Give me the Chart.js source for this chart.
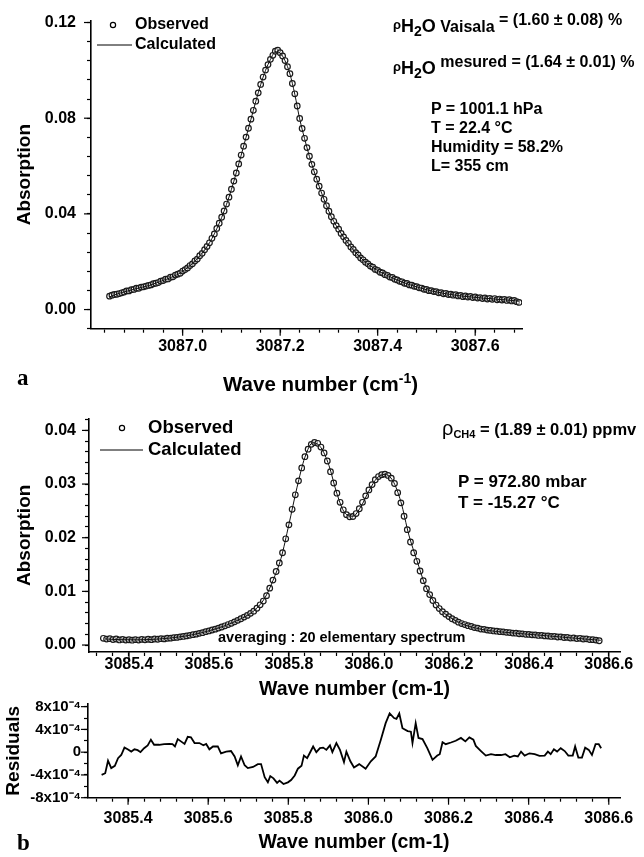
<!DOCTYPE html>
<html>
<head>
<meta charset="utf-8">
<script src="https://cdn.jsdelivr.net/npm/chart.js@4.4.1/dist/chart.umd.min.js"></script>
<style>
  body { margin:0; background:#fff; width:644px; height:857px; position:relative; overflow:hidden;
         font-family:"Liberation Sans", Arial, sans-serif; font-weight:bold; color:#000; }
  canvas { position:absolute; left:0; }
  .txt { position:absolute; white-space:nowrap; }
  .tag { position:absolute; font-family:"Liberation Serif", serif; font-weight:bold; font-size:23px; line-height:24px; }
</style>
</head>
<body>
<canvas id="chartA" width="644" height="400" style="top:0"></canvas>
<canvas id="chartB" width="644" height="310" style="top:400px"></canvas>
<canvas id="chartC" width="644" height="167" style="top:690px"></canvas>

<div class="txt" style="left:393px; top:7px; font-size:16px; line-height:26px">
  <span style="font-size:13px; vertical-align:3px">ρ</span><span style="font-size:18px">H</span><span style="font-size:14px; vertical-align:-4px">2</span><span style="font-size:18px">O</span> Vaisala <span style="vertical-align:7px">= (1.60 ± 0.08) %</span>
</div>
<div class="txt" style="left:393px; top:49px; font-size:16px; line-height:26px">
  <span style="font-size:13px; vertical-align:3px">ρ</span><span style="font-size:18px">H</span><span style="font-size:14px; vertical-align:-4px">2</span><span style="font-size:18px">O</span> <span style="vertical-align:7px">mesured = (1.64 ± 0.01) %</span>
</div>
<div class="txt" style="left:431px; top:99px; font-size:16px; line-height:19px">
  P = 1001.1 hPa<br>T = 22.4 °C<br>Humidity = 58.2%<br>L= 355 cm
</div>
<div class="txt" style="left:223px; top:366px; font-size:20.5px; line-height:24px">Wave number (cm<span style="font-size:14px; vertical-align:8px">-1</span>)</div>
<div class="tag" style="left:17px; top:366px">a</div>

<div class="txt" style="left:442px; top:415px; font-size:16.5px; line-height:26px">
  <span style="font-size:20px; font-weight:normal">ρ</span><span style="font-size:11px; vertical-align:-3px">CH4</span> = (1.89 ± 0.01) ppmv
</div>
<div class="txt" style="left:458px; top:471px; font-size:17px; line-height:21px">
  P = 972.80 mbar<br>T = -15.27 °C
</div>
<div class="txt" style="left:218px; top:628px; font-size:14.5px; line-height:18px">averaging : 20 elementary spectrum</div>
<div class="tag" style="left:17px; top:831px">b</div>

<script>
// panel a : H2O line, observed every 0.005 cm-1, calculated every 0.01 cm-1
const obsAStart = 3086.850, obsAStep = 0.005;
const obsA = [
  0.0056,0.0060,0.0063,0.0064,0.0067,0.0070,0.0073,0.0078,0.0078,0.0083,
  0.0084,0.0089,0.0089,0.0094,0.0095,0.0098,0.0101,0.0103,0.0108,0.0110,
  0.0113,0.0119,0.0121,0.0127,0.0128,0.0135,0.0137,0.0144,0.0148,0.0152,
  0.0161,0.0167,0.0174,0.0184,0.0191,0.0203,0.0211,0.0225,0.0235,0.0250,
  0.0264,0.0279,0.0298,0.0316,0.0339,0.0361,0.0386,0.0412,0.0441,0.0470,
  0.0503,0.0537,0.0571,0.0609,0.0646,0.0683,0.0721,0.0758,0.0796,0.0833,
  0.0871,0.0906,0.0941,0.0972,0.1001,0.1024,0.1046,0.1063,0.1080,0.1084,
  0.1074,0.1060,0.1041,0.1015,0.0986,0.0945,0.0902,0.0851,0.0799,0.0757,
  0.0716,0.0677,0.0641,0.0607,0.0576,0.0545,0.0516,0.0487,0.0461,0.0434,
  0.0411,0.0388,0.0369,0.0351,0.0336,0.0318,0.0304,0.0289,0.0277,0.0262,
  0.0251,0.0238,0.0228,0.0216,0.0208,0.0198,0.0191,0.0182,0.0177,0.0168,
  0.0164,0.0156,0.0153,0.0146,0.0143,0.0136,0.0134,0.0127,0.0124,0.0118,
  0.0116,0.0110,0.0109,0.0103,0.0102,0.0097,0.0096,0.0091,0.0090,0.0085,
  0.0084,0.0079,0.0079,0.0075,0.0075,0.0070,0.0071,0.0066,0.0068,0.0063,
  0.0064,0.0060,0.0062,0.0057,0.0059,0.0054,0.0057,0.0052,0.0055,0.0050,
  0.0053,0.0048,0.0050,0.0046,0.0049,0.0044,0.0047,0.0043,0.0046,0.0041,
  0.0044,0.0040,0.0043,0.0038,0.0041,0.0036,0.0038,0.0033,0.0030
];
const calcAStart = 3086.85, calcAStep = 0.01;
const calcA = [
  0.0053,0.0061,0.0068,0.0074,0.0079,0.0085,0.0090,0.0095,0.0100,0.0107,
  0.0114,0.0122,0.0129,0.0138,0.0147,0.0160,0.0175,0.0192,0.0212,0.0236,
  0.0263,0.0297,0.0338,0.0385,0.0440,0.0502,0.0572,0.0645,0.0720,0.0795,
  0.0870,0.0940,0.1000,0.1045,0.1078,0.1072,0.1040,0.0985,0.0900,0.0797,
  0.0715,0.0640,0.0575,0.0515,0.0460,0.0410,0.0368,0.0335,0.0303,0.0276,
  0.0250,0.0227,0.0207,0.0190,0.0176,0.0163,0.0152,0.0142,0.0133,0.0123,
  0.0115,0.0108,0.0101,0.0095,0.0089,0.0083,0.0078,0.0074,0.0070,0.0066,
  0.0063,0.0060,0.0057,0.0055,0.0053,0.0051,0.0049,0.0047,0.0046,0.0044,
  0.0042,0.0041,0.0039,0.0037,0.0035
];

// panel b : CH4 doublet, observed every 0.008 cm-1, calculated every 0.02 cm-1
const obsBStart = 3085.336, obsBStep = 0.008;
const obsB = [
  0.00125,0.00110,0.00118,0.00102,0.00112,0.00095,0.00104,0.00092,0.00098,0.00090,
  0.00100,0.00093,0.00105,0.00097,0.00108,0.00100,0.00112,0.00108,0.00118,0.00114,
  0.00126,0.00128,0.00138,0.00142,0.00152,0.00160,0.00170,0.00180,0.00192,0.00203,
  0.00218,0.00230,0.00248,0.00262,0.00280,0.00296,0.00315,0.00336,0.00358,0.00382,
  0.00405,0.00432,0.00460,0.00490,0.00520,0.00552,0.00590,0.00630,0.00685,0.00750,
  0.00820,0.00920,0.01060,0.01210,0.01370,0.01530,0.01720,0.01980,0.02240,0.02530,
  0.02800,0.03060,0.03300,0.03510,0.03650,0.03740,0.03775,0.03760,0.03690,0.03580,
  0.03430,0.03230,0.03020,0.02830,0.02660,0.02520,0.02430,0.02390,0.02395,0.02450,
  0.02540,0.02660,0.02780,0.02890,0.02990,0.03080,0.03140,0.03175,0.03185,0.03160,
  0.03110,0.03010,0.02840,0.02650,0.02400,0.02150,0.01920,0.01720,0.01560,0.01380,
  0.01200,0.01050,0.00940,0.00830,0.00745,0.00680,0.00620,0.00575,0.00530,0.00490,
  0.00460,0.00425,0.00400,0.00382,0.00360,0.00345,0.00325,0.00315,0.00298,0.00292,
  0.00278,0.00272,0.00262,0.00258,0.00248,0.00246,0.00236,0.00232,0.00222,0.00220,
  0.00210,0.00208,0.00200,0.00198,0.00190,0.00188,0.00178,0.00180,0.00170,0.00168,
  0.00160,0.00162,0.00150,0.00152,0.00140,0.00142,0.00130,0.00132,0.00120,0.00125,
  0.00112,0.00115,0.00102,0.00100,0.00092,0.00080
];
const calcBStart = 3085.34, calcBStep = 0.02;
const calcB = [
  0.00115,0.00105,0.00100,0.00098,0.00097,0.00100,0.00106,0.00115,0.00128,0.00145,
  0.00166,0.00193,0.00226,0.00265,0.00308,0.00360,0.00420,0.00490,0.00570,0.00690,
  0.00880,0.01200,0.01610,0.02250,0.02930,0.03500,0.03770,0.03680,0.03350,0.02820,
  0.02460,0.02400,0.02580,0.02870,0.03110,0.03180,0.03060,0.02670,0.02050,0.01580,
  0.01130,0.00840,0.00650,0.00530,0.00440,0.00375,0.00330,0.00295,0.00270,0.00252,
  0.00238,0.00225,0.00212,0.00200,0.00188,0.00175,0.00162,0.00150,0.00137,0.00125,
  0.00112,0.00100,0.00088
];

// residuals (units of 1e-4)
const resWn = [
  3085.334,3085.343,3085.350,3085.358,3085.367,3085.375,3085.383,3085.391,3085.399,3085.408,
  3085.416,3085.424,3085.431,3085.440,3085.449,3085.457,3085.465,3085.478,3085.490,3085.503,
  3085.511,3085.517,3085.524,3085.532,3085.541,3085.549,3085.557,3085.566,3085.578,3085.588,
  3085.595,3085.603,3085.612,3085.624,3085.632,3085.645,3085.657,3085.666,3085.674,3085.682,
  3085.691,3085.699,3085.712,3085.724,3085.732,3085.741,3085.749,3085.755,3085.763,3085.772,
  3085.778,3085.788,3085.799,3085.807,3085.816,3085.824,3085.833,3085.839,3085.847,3085.854,
  3085.862,3085.870,3085.879,3085.887,3085.895,3085.904,3085.910,3085.920,3085.929,3085.939,
  3085.945,3085.955,3085.964,3085.977,3085.993,3086.006,3086.018,3086.031,3086.043,3086.053,
  3086.064,3086.070,3086.077,3086.085,3086.098,3086.106,3086.110,3086.118,3086.125,3086.135,
  3086.147,3086.160,3086.172,3086.178,3086.185,3086.193,3086.206,3086.218,3086.231,3086.242,
  3086.252,3086.262,3086.268,3086.281,3086.293,3086.306,3086.318,3086.331,3086.342,3086.353,
  3086.364,3086.373,3086.381,3086.390,3086.402,3086.415,3086.427,3086.440,3086.448,3086.455,
  3086.463,3086.471,3086.480,3086.490,3086.499,3086.510,3086.516,3086.524,3086.533,3086.541,
  3086.550,3086.558,3086.567,3086.575,3086.581
];
const resVal = [
  -4.0,-3.7,-1.5,-2.8,-2.4,-1.05,-0.5,0.8,0.5,0.1,
  0.5,0.35,0.0,0.7,1.2,2.2,1.3,1.3,1.4,1.45,
  1.4,1.0,2.3,1.9,1.45,2.7,2.6,1.6,1.6,1.2,
  1.45,0.5,1.0,1.0,-0.2,0.1,0.2,-0.75,-2.3,-0.75,
  -2.3,-2.8,-2.6,-2.1,-2.1,-4.4,-5.3,-4.2,-4.6,-5.4,
  -5.0,-5.6,-5.3,-4.9,-4.1,-2.9,-2.4,-0.6,-1.05,-0.1,
  1.0,0.0,0.7,0.8,0.4,1.2,0.0,1.6,0.4,-1.75,
  0.1,-1.6,-2.7,-2.1,-2.9,-1.6,-0.75,2.2,5.1,6.8,
  6.0,5.85,6.8,4.2,3.7,3.6,1.6,5.1,2.5,2.3,
  0.7,-1.35,-0.6,-0.35,1.75,1.4,1.7,2.0,2.5,1.9,
  2.6,2.2,1.1,0.2,-0.6,-0.35,-0.5,-0.5,-0.35,-0.9,
  -0.6,-0.75,0.1,-0.6,-0.2,-0.35,-0.65,-0.6,0.1,-0.35,
  0.5,0.1,0.7,0.2,-0.6,-0.6,1.0,-0.95,-0.95,0.8,
  0.4,-0.5,1.4,1.4,0.7
];

const FONT = '"Liberation Sans", Arial, sans-serif';

function series(x0, dx, ys) {
  return ys.map((y, i) => ({ x: +(x0 + i * dx).toFixed(4), y }));
}
function tickList(start, step, count) {
  const out = [];
  for (let i = 0; i < count; i++) out.push({ value: +(start + i * step).toFixed(6) });
  return out;
}
function isMultiple(v, m) {
  const r = v / m;
  return Math.abs(r - Math.round(r)) < 1e-6;
}

function axis(cfg) {
  return {
    type: 'linear',
    min: cfg.min,
    max: cfg.max,
    afterBuildTicks: s => { s.ticks = cfg.ticks; },
    afterFit: s => {
      if (cfg.width) s.width = cfg.width;
      if (cfg.height) s.height = cfg.height;
    },
    grid: { drawOnChartArea: false, drawTicks: true, tickLength: 4, tickColor: '#000', tickWidth: 1.2 },
    border: { display: true, color: '#000', width: 1.6 },
    ticks: {
      autoSkip: false, maxRotation: 0, color: '#000', padding: cfg.pad,
      font: { family: FONT, size: cfg.tickSize || 16, weight: 'bold' },
      callback: cfg.label
    },
    title: {
      display: !!cfg.title, text: cfg.title, color: '#000',
      font: { family: FONT, size: cfg.titleSize || 19, weight: 'bold' },
      padding: cfg.titlePad
    }
  };
}

// labelled ticks are a little longer than the minor ones
const majorTicks = {
  id: 'majorTicks',
  afterDraw(chart) {
    const ctx = chart.ctx;
    const area = chart.chartArea;
    ctx.save();
    ctx.strokeStyle = '#000';
    ctx.lineWidth = 1.2;
    Object.values(chart.scales).forEach(s => {
      s.ticks.forEach(t => {
        if (!t.label) return;
        const p = s.getPixelForValue(t.value);
        ctx.beginPath();
        if (s.isHorizontal()) { ctx.moveTo(p, area.bottom); ctx.lineTo(p, area.bottom + 7); }
        else { ctx.moveTo(area.left, p); ctx.lineTo(area.left - 7, p); }
        ctx.stroke();
      });
    });
    ctx.restore();
  }
};

// legend drawn inside the plot area, top left
const insideLegend = {
  id: 'insideLegend',
  afterDatasetsDraw(chart, args, o) {
    if (!o || !o.size) return;
    const ctx = chart.ctx;
    const ds = chart.data.datasets;
    ctx.save();
    ctx.font = `bold ${o.size}px ${FONT}`;
    ctx.fillStyle = '#000';
    ctx.strokeStyle = '#000';
    ctx.textBaseline = 'middle';
    ctx.lineWidth = 1.2;
    ctx.beginPath();
    ctx.arc(o.markX, o.row1, 2.6, 0, Math.PI * 2);
    ctx.stroke();
    ctx.lineWidth = 1;
    ctx.fillText(ds[1].label, o.textX, o.row1);
    ctx.beginPath();
    ctx.moveTo(o.lineX0, o.row2);
    ctx.lineTo(o.lineX1, o.row2);
    ctx.stroke();
    ctx.fillText(ds[0].label, o.textX, o.row2);
    ctx.restore();
  }
};

function spectrumChart(id, calcPts, obsPts, pad, xAxis, yAxis, legend) {
  return new Chart(document.getElementById(id), {
    type: 'line',
    data: {
      datasets: [
        { label: 'Calculated', data: calcPts, borderColor: '#111', borderWidth: 1,
          pointRadius: 0, cubicInterpolationMode: 'monotone', fill: false },
        { label: 'Observed', data: obsPts, showLine: false, pointRadius: 2.8,
          pointBorderWidth: 1.2, pointBorderColor: '#1a1a1a', pointBackgroundColor: 'rgba(255,255,255,0.5)' }
      ]
    },
    options: {
      responsive: false, animation: false, devicePixelRatio: 1, events: [],
      layout: { padding: pad },
      plugins: { legend: { display: false }, tooltip: { enabled: false }, insideLegend: legend },
      scales: { x: axis(xAxis), y: axis(yAxis) }
    },
    plugins: [insideLegend, majorTicks]
  });
}

// panel a (x title is the html line with the superscript)
spectrumChart('chartA',
  series(calcAStart, calcAStep, calcA),
  series(obsAStart, obsAStep, obsA),
  { left: 0, top: 18, right: 122, bottom: 0 },
  { min: 3086.812, max: 3087.696, ticks: tickList(3086.84, 0.04, 22), height: 71.3, pad: 4,
    label: v => isMultiple(v, 0.2) ? v.toFixed(1) : '', title: '' },
  { min: -0.008, max: 0.1208, ticks: tickList(-0.008, 0.008, 17), width: 91, pad: 11,
    label: v => isMultiple(v, 0.04) ? v.toFixed(2) : '',
    title: 'Absorption', titlePad: { top: 13.6, bottom: 0 } },
  { size: 16, markX: 113, row1: 25, textX: 135, row2: 45, lineX0: 97, lineX1: 132 });

// panel b
spectrumChart('chartB',
  series(calcBStart, calcBStep, calcB),
  series(obsBStart, obsBStep, obsB),
  { left: 0, top: 16.4, right: 24, bottom: 0 },
  { min: 3085.30, max: 3086.628, ticks: tickList(3085.32, 0.04, 33), height: 58, pad: -1,
    label: v => isMultiple(v, 0.2) ? v.toFixed(1) : '',
    title: 'Wave number (cm-1)', titleSize: 19.5, titlePad: { top: 0, bottom: 8.6 } },
  { min: -0.0013, max: 0.0422, ticks: tickList(0, 0.002, 22), width: 89, pad: 9,
    label: v => isMultiple(v, 0.01) ? v.toFixed(2) : '',
    title: 'Absorption', titlePad: { top: 13.6, bottom: 0 } },
  { size: 18.5, markX: 122, row1: 28, textX: 148, row2: 50, lineX0: 100, lineX1: 143 });

// residuals
new Chart(document.getElementById('chartC'), {
  type: 'line',
  data: {
    datasets: [{
      label: 'Residuals',
      data: resWn.map((x, i) => ({ x, y: resVal[i] })),
      borderColor: '#000', borderWidth: 1.8, pointRadius: 0, tension: 0, fill: false
    }]
  },
  options: {
    responsive: false, animation: false, devicePixelRatio: 1, events: [],
    layout: { padding: { left: 0, top: 13.8, right: 24, bottom: 0 } },
    plugins: { legend: { display: false }, tooltip: { enabled: false } },
    scales: {
      x: axis({ min: 3085.30, max: 3086.628, ticks: tickList(3085.32, 0.04, 33), height: 59.3, pad: 7,
        label: v => isMultiple(v, 0.2) ? v.toFixed(1) : '',
        title: 'Wave number (cm-1)', titleSize: 19.5, titlePad: { top: 0, bottom: 2.6 } }),
      y: axis({ min: -8, max: 8.5, ticks: tickList(-8, 2, 9), width: 88, pad: 3, tickSize: 15,
        label: v => v === 0 ? '0' : (isMultiple(v, 4) ? v + 'x10\u207B\u2074' : ''),
        title: 'Residuals', titlePad: { top: 2.6, bottom: 0 } })
    }
  },
  plugins: [majorTicks]
});
</script>
</body>
</html>
